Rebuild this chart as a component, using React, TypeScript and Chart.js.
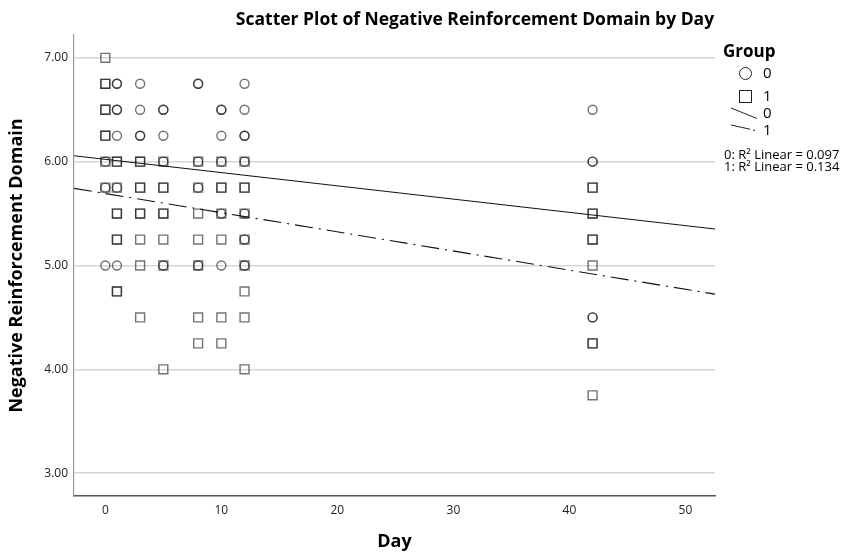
import React, { useEffect, useRef } from "react";
import { Chart, registerables } from "chart.js";

Chart.register(...registerables);

const TITLE = "Scatter Plot of Negative Reinforcement Domain by Day";
const X_TITLE = "Day";
const Y_TITLE = "Negative Reinforcement Domain";
const LEGEND_TITLE = "Group";
const groupLabels = ["0", "1"];

const xTicks = [0, 10, 20, 30, 40, 50];
const yTicks = [3, 4, 5, 6, 7];
const X_MIN = -2.7;
const X_MAX = 52.55;
const Y_MIN = 2.78;
const Y_MAX = 7.22;

// Group 0 (circles)
const group0Day = [
  0, 0, 0,
  1, 1, 1, 1, 1, 1, 1,
  3, 3, 3, 3,
  5, 5, 5, 5, 5,
  8, 8, 8, 8, 8,
  10, 10, 10, 10, 10, 10,
  12, 12, 12, 12, 12, 12, 12, 12,
  42, 42, 42, 42, 42,
];
const group0Score = [
  6.0, 5.75, 5.0,
  6.75, 6.75, 6.5, 6.5, 6.25, 5.75, 5.0,
  6.75, 6.5, 6.25, 6.25,
  6.5, 6.5, 6.25, 6.0, 5.0,
  6.75, 6.75, 6.0, 5.75, 5.0,
  6.5, 6.5, 6.25, 6.0, 5.5, 5.0,
  6.75, 6.5, 6.25, 6.25, 6.0, 5.5, 5.25, 5.0,
  6.5, 6.0, 6.0, 4.5, 4.5,
];

// Group 1 (squares)
const group1Day = [
  0, 0, 0, 0, 0, 0, 0, 0, 0,
  1, 1, 1, 1, 1, 1, 1, 1, 1,
  3, 3, 3, 3, 3, 3, 3, 3, 3,
  5, 5, 5, 5, 5, 5, 5, 5,
  8, 8, 8, 8, 8, 8, 8,
  10, 10, 10, 10, 10, 10, 10,
  12, 12, 12, 12, 12, 12, 12, 12, 12,
  42, 42, 42, 42, 42, 42, 42, 42, 42, 42,
];
const group1Score = [
  7.0, 6.75, 6.75, 6.5, 6.5, 6.25, 6.25, 6.0, 5.75,
  6.0, 6.0, 5.75, 5.5, 5.5, 5.25, 5.25, 4.75, 4.75,
  6.0, 6.0, 5.75, 5.75, 5.5, 5.5, 5.25, 5.0, 4.5,
  6.0, 5.75, 5.75, 5.5, 5.5, 5.25, 5.0, 4.0,
  6.0, 5.75, 5.5, 5.25, 5.0, 4.5, 4.25,
  6.0, 5.75, 5.75, 5.5, 5.25, 4.5, 4.25,
  6.0, 5.75, 5.75, 5.5, 5.25, 5.0, 4.75, 4.5, 4.0,
  5.75, 5.75, 5.5, 5.5, 5.25, 5.25, 5.0, 4.25, 4.25, 3.75,
];

// Linear fit lines per group
const fitIntercept = [6.023, 5.693];
const fitSlope = [-0.01278, -0.01844];
const rSquared = [0.097, 0.134];

const FONT = '"Open Sans", "DejaVu Sans", sans-serif';

const overlayPlugin = {
  id: "overlay",
  afterDraw(chart: any) {
    const ctx = chart.ctx as CanvasRenderingContext2D;
    ctx.save();
    ctx.fillStyle = "#000";
    ctx.textBaseline = "middle";
    ctx.textAlign = "center";
    ctx.font = `bold 17.5px ${FONT}`;
    ctx.fillText(TITLE, 475, 20);

    ctx.textAlign = "left";
    ctx.font = `bold 17px ${FONT}`;
    ctx.fillText(LEGEND_TITLE, 723, 52);

    ctx.strokeStyle = "#222";
    ctx.lineWidth = 1;
    ctx.beginPath();
    ctx.arc(745.5, 73.5, 6, 0, Math.PI * 2);
    ctx.stroke();
    ctx.strokeRect(739.5, 90.5, 12, 12);

    ctx.beginPath();
    ctx.moveTo(731, 108);
    ctx.lineTo(757, 118.5);
    ctx.stroke();

    ctx.beginPath();
    ctx.moveTo(731, 125);
    ctx.lineTo(750, 129.2);
    ctx.stroke();
    ctx.beginPath();
    ctx.moveTo(753, 130);
    ctx.lineTo(755, 130.4);
    ctx.stroke();

    ctx.font = `15px ${FONT}`;
    ctx.fillText(groupLabels[0], 763, 74);
    ctx.fillText(groupLabels[1], 763, 97);
    ctx.fillText(groupLabels[0], 763, 114);
    ctx.fillText(groupLabels[1], 763, 131);

    ctx.font = `13px ${FONT}`;
    ctx.fillText(`${groupLabels[0]}: R² Linear = ${rSquared[0].toFixed(3)}`, 724, 155);
    ctx.fillText(`${groupLabels[1]}: R² Linear = ${rSquared[1].toFixed(3)}`, 724, 167);
    ctx.restore();
  },
};

function toPoints(days: number[], scores: number[]) {
  return days.map((d, i) => ({ x: d, y: scores[i] }));
}

function fitLine(g: number) {
  return [X_MIN, X_MAX].map((x) => ({ x, y: fitIntercept[g] + fitSlope[g] * x }));
}

export default function App() {
  const ref = useRef<HTMLCanvasElement | null>(null);

  useEffect(() => {
    if (!ref.current) return;
    const chart = new Chart(ref.current, {
      type: "scatter",
      data: {
        datasets: [
          {
            label: groupLabels[0],
            data: toPoints(group0Day, group0Score),
            pointStyle: "circle",
            pointRadius: 4.5,
            pointBorderWidth: 1.4,
            borderColor: "rgba(20,20,20,0.6)",
            backgroundColor: "rgba(0,0,0,0)",
          },
          {
            label: groupLabels[1],
            data: toPoints(group1Day, group1Score),
            pointStyle: "rect",
            pointRadius: 6.3,
            pointBorderWidth: 1.4,
            borderColor: "rgba(20,20,20,0.6)",
            backgroundColor: "rgba(0,0,0,0)",
          },
          {
            label: "fit0",
            data: fitLine(0),
            showLine: true,
            pointRadius: 0,
            borderColor: "#111",
            borderWidth: 1.1,
          },
          {
            label: "fit1",
            data: fitLine(1),
            showLine: true,
            pointRadius: 0,
            borderColor: "#111",
            borderWidth: 1.1,
            borderDash: [18, 6, 2, 6],
          },
        ],
      },
      options: {
        animation: false,
        responsive: false,
        layout: { padding: { top: 35, right: 126, bottom: 0, left: 0 } },
        plugins: {
          legend: { display: false },
          title: { display: false },
          tooltip: { enabled: false },
        },
        scales: {
          x: {
            type: "linear",
            min: X_MIN,
            max: X_MAX,
            afterBuildTicks: (s: any) => {
              s.ticks = xTicks.map((v) => ({ value: v }));
            },
            afterFit: (s: any) => {
              s.height = 58;
              s.paddingLeft = 0;
              s.paddingRight = 0;
            },
            grid: { display: false, drawTicks: false },
            border: { display: true, color: "#555", width: 1.5 },
            ticks: {
              padding: 7,
              color: "#222",
              font: { family: FONT, size: 12 },
              callback: (v: any) => String(v),
            },
            title: {
              display: true,
              text: X_TITLE,
              color: "#000",
              font: { family: FONT, size: 18, weight: "bold" },
              padding: { top: 4, bottom: 1 },
            },
          },
          y: {
            type: "linear",
            min: Y_MIN,
            max: Y_MAX,
            afterBuildTicks: (s: any) => {
              s.ticks = yTicks.map((v) => ({ value: v }));
            },
            afterFit: (s: any) => {
              s.width = 74;
              s.paddingTop = 0;
              s.paddingBottom = 0;
            },
            grid: { color: "#d6d6d6", lineWidth: 1.6, drawTicks: false },
            border: { display: true, color: "#999", width: 1.2 },
            ticks: {
              padding: 6,
              color: "#222",
              font: { family: FONT, size: 12 },
              callback: (v: any) => Number(v).toFixed(2),
            },
            title: {
              display: true,
              text: Y_TITLE,
              color: "#000",
              font: { family: FONT, size: 18, weight: "bold" },
              padding: { top: 6, bottom: 4 },
            },
          },
        },
      },
      plugins: [overlayPlugin],
    } as any);
    return () => chart.destroy();
  }, []);

  return (
    <div style={{ position: "fixed", left: 0, top: 0, width: 841, height: 554, background: "#fff" }}>
      <canvas ref={ref} width={841} height={554} style={{ display: "block" }} />
    </div>
  );
}
